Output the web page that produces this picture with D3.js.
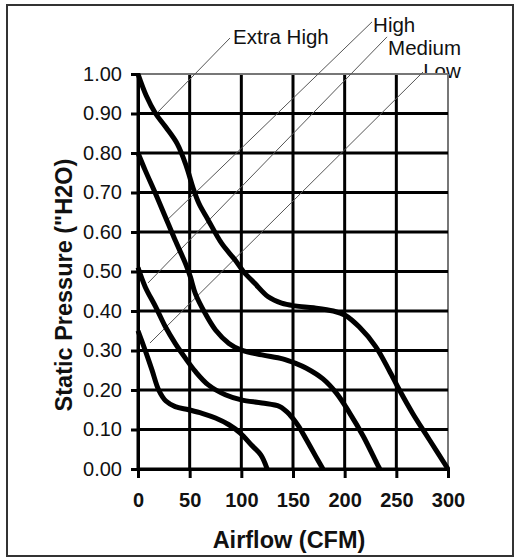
<!DOCTYPE html>
<html>
<head>
<meta charset="utf-8">
<script src="https://cdn.jsdelivr.net/npm/d3@7"></script>
<style>
  html, body { margin: 0; padding: 0; background: #fff; }
  svg { display: block; font-family: "Liberation Sans", Arial, sans-serif; }
</style>
</head>
<body>
<svg id="chart" width="522" height="558"></svg>
<script>
// ---------- data ----------
const xTicks = [0, 50, 100, 150, 200, 250, 300];
const yTicks = [0, 0.1, 0.2, 0.3, 0.4, 0.5, 0.6, 0.7, 0.8, 0.9, 1.0];
const seriesNames = ["Extra High", "High", "Medium", "Low"];

const extraHighCfm      = [0, 8, 17, 27, 38, 47, 53, 59, 68, 81, 94, 102, 113, 126, 139, 152, 170, 189, 200, 214, 230, 243, 253, 266, 282, 300];
const extraHighPressure = [1.00, 0.945, 0.90, 0.865, 0.823, 0.765, 0.714, 0.672, 0.63, 0.571, 0.529, 0.50, 0.47, 0.436, 0.42, 0.413, 0.408, 0.40, 0.39, 0.36, 0.31, 0.25, 0.20, 0.14, 0.074, 0.0];

const highCfm      = [0, 7, 17, 26.5, 36, 46, 50.6, 55.5, 65, 75, 88, 100, 120, 140, 152, 163, 179, 192, 205, 218, 231, 234];
const highPressure = [0.80, 0.756, 0.697, 0.638, 0.579, 0.52, 0.487, 0.444, 0.394, 0.352, 0.318, 0.301, 0.289, 0.279, 0.268, 0.255, 0.228, 0.192, 0.141, 0.083, 0.015, 0.0];

const mediumCfm      = [0, 7, 17, 26.5, 36, 46, 55.5, 68, 84.5, 100, 120, 137, 147, 155, 163, 172, 179];
const mediumPressure = [0.51, 0.461, 0.411, 0.36, 0.318, 0.28, 0.247, 0.213, 0.188, 0.175, 0.167, 0.158, 0.137, 0.11, 0.074, 0.032, 0.0];

const lowCfm      = [0, 7, 13.5, 20, 27, 36, 49, 62, 75, 88, 99, 110, 119, 125];
const lowPressure = [0.35, 0.30, 0.251, 0.20, 0.172, 0.158, 0.15, 0.141, 0.129, 0.112, 0.091, 0.06, 0.035, 0.0];

// annotation leader lines (data units): label anchor and curve point
const labelCfm       = [92, 227.5, 242, 276];
const labelPressure  = [1.076, 1.106, 1.048, 0.99];
const leaderFromCfm  = [89, 226.5, 241, 275.8];
const leaderFromP    = [1.091, 1.132, 1.094, 1.005];
const leaderToCfm    = [19.4, 28.1, 9.7, 11.6];
const leaderToP      = [0.904, 0.630, 0.471, 0.319];

// ---------- layout ----------
const svg = d3.select("#chart");
const mLeft = 138, mRight = 448, mTop = 74, mBottom = 469;
const x = d3.scaleLinear().domain([0, 300]).range([mLeft, mRight]);
const y = d3.scaleLinear().domain([0, 1]).range([mBottom, mTop]);

// outer frame
svg.append("rect")
  .attr("x", 7).attr("y", 5).attr("width", 506).attr("height", 551)
  .attr("fill", "#fff").attr("stroke", "#333").attr("stroke-width", 2);

// series labels (drawn before plot background so "Low" is partly covered)
svg.append("g").selectAll("text")
  .data(seriesNames)
  .join("text")
  .attr("x", (d, i) => x(labelCfm[i]))
  .attr("y", (d, i) => y(labelPressure[i]))
  .attr("font-size", 20.5)
  .attr("fill", "#111")
  .text(d => d);

// plot background
svg.append("rect")
  .attr("x", mLeft).attr("y", mTop)
  .attr("width", mRight - mLeft).attr("height", mBottom - mTop)
  .attr("fill", "#fff");

// grid
const grid = svg.append("g");
grid.selectAll("line.v")
  .data(xTicks)
  .join("line")
  .attr("class", "v")
  .attr("x1", d => x(d)).attr("x2", d => x(d))
  .attr("y1", mTop).attr("y2", mBottom)
  .attr("stroke", d => d === 300 ? "#777" : "#000")
  .attr("stroke-width", d => d === 300 ? 2 : 3);
grid.selectAll("line.h")
  .data(yTicks)
  .join("line")
  .attr("class", "h")
  .attr("x1", mLeft).attr("x2", mRight)
  .attr("y1", d => y(d)).attr("y2", d => y(d))
  .attr("stroke", d => d === 1.0 ? "#777" : "#000")
  .attr("stroke-width", d => d === 1.0 ? 2 : 3);

// axes
const yAxis = svg.append("g")
  .attr("transform", `translate(${mLeft},0)`)
  .call(d3.axisLeft(y).tickValues(yTicks).tickFormat(d3.format(".2f")).tickSize(7).tickPadding(9));
yAxis.select(".domain").attr("stroke", "#000").attr("stroke-width", 3);
yAxis.selectAll(".tick line").attr("stroke", "#000").attr("stroke-width", 3);
yAxis.selectAll(".tick text")
  .attr("font-size", 20).attr("fill", "#111")
  .attr("font-family", "Liberation Sans, Arial, sans-serif");

const xAxis = svg.append("g")
  .attr("transform", `translate(0,${mBottom})`)
  .call(d3.axisBottom(x).tickValues(xTicks).tickFormat(d3.format("d")).tickSize(9).tickPadding(15));
xAxis.select(".domain").attr("stroke", "#000").attr("stroke-width", 3);
xAxis.selectAll(".tick line").attr("stroke", "#000").attr("stroke-width", 3);
xAxis.selectAll(".tick text")
  .attr("font-size", 20).attr("font-weight", "bold").attr("fill", "#111")
  .attr("font-family", "Liberation Sans, Arial, sans-serif");

// leader lines
svg.append("g").selectAll("line")
  .data(seriesNames)
  .join("line")
  .attr("x1", (d, i) => x(leaderFromCfm[i]))
  .attr("y1", (d, i) => y(leaderFromP[i]))
  .attr("x2", (d, i) => x(leaderToCfm[i]))
  .attr("y2", (d, i) => y(leaderToP[i]))
  .attr("stroke", "#555")
  .attr("stroke-width", 1);

// curves
const series = [
  { name: "Extra High", cfm: extraHighCfm, p: extraHighPressure },
  { name: "High", cfm: highCfm, p: highPressure },
  { name: "Medium", cfm: mediumCfm, p: mediumPressure },
  { name: "Low", cfm: lowCfm, p: lowPressure }
];
const line = d3.line()
  .x(d => x(d[0]))
  .y(d => y(d[1]))
  .curve(d3.curveCatmullRom.alpha(0.5));
svg.append("g").selectAll("path")
  .data(series)
  .join("path")
  .attr("d", s => line(s.cfm.map((c, i) => [c, s.p[i]])))
  .attr("fill", "none")
  .attr("stroke", "#000")
  .attr("stroke-width", 5)
  .attr("stroke-linejoin", "round");

// axis titles
svg.append("text")
  .attr("x", (mLeft + mRight) / 2 - 4).attr("y", 548)
  .attr("text-anchor", "middle")
  .attr("font-size", 23.5).attr("font-weight", "bold").attr("fill", "#111")
  .text("Airflow (CFM)");

svg.append("text")
  .attr("transform", "translate(72,285) rotate(-90)")
  .attr("text-anchor", "middle")
  .attr("font-size", 23.5).attr("font-weight", "bold").attr("fill", "#111")
  .text("Static Pressure (\"H2O)");
</script>
</body>
</html>
